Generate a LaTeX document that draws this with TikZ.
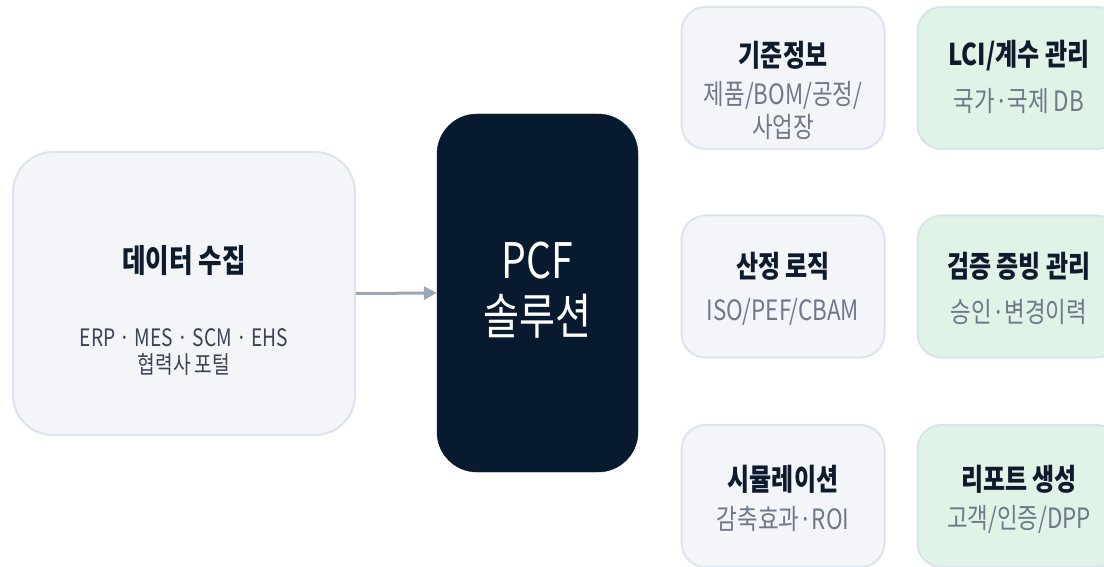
\documentclass[tikz,border=0pt]{standalone}
\usepackage{fontspec}
\setmainfont{Noto Sans CJK KR}[FakeStretch=0.8]
\usetikzlibrary{arrows.meta}
\definecolor{lightfill}{HTML}{F3F5F9}
\definecolor{lightborder}{HTML}{DCE4EE}
\definecolor{greenfill}{HTML}{DFF3E6}
\definecolor{greenborder}{HTML}{D8E4EC}
\definecolor{navy}{HTML}{081A2F}
\definecolor{titlecol}{HTML}{0F1B2D}
\definecolor{subcol}{HTML}{6D7889}
\definecolor{leftsubcol}{HTML}{3B4452}
\definecolor{arrowcol}{HTML}{9AA6B6}
\tikzset{
  card/.style={draw=lightborder, fill=lightfill, line width=2pt, rounded corners=24pt,
    minimum width=203pt, minimum height=142pt, inner sep=0pt},
  gcard/.style={card, draw=greenborder, fill=greenfill},
  ttl/.style={text=titlecol, font=\bfseries\fontsize{30}{32}\selectfont, inner sep=0pt},
  sub/.style={text=subcol, font=\fontsize{28}{30}\selectfont, inner sep=0pt},
  bigtxt/.style={text=white, font=\fontsize{49}{50}\selectfont, inner sep=0pt},
  leftsub/.style={text=leftsubcol, font=\fontsize{24}{26}\selectfont, inner sep=0pt},
  arrowline/.style={draw=arrowcol, line width=3pt, -{Triangle[length=13pt,width=13pt]}}
}
\begin{document}
\begin{tikzpicture}[x=1pt,y=-1pt]
\useasboundingbox (0,0) rectangle (1104,567);
% left
\node[card, rounded corners=40pt, minimum width=342pt, minimum height=283pt] (left) at (184,293.5) {};
\node[ttl, font=\bfseries\fontsize{32}{34}\selectfont] (lefttitle) at (184,261) {데이터 수집};
\node[leftsub] (leftsub1) at (184,337.5) {ERP · MES · SCM · EHS};
\node[leftsub] (leftsub2) at (184,364.5) {협력사 포털};
% center
\node[draw=navy, fill=navy, rounded corners=40pt, minimum width=201pt, minimum height=358pt, inner sep=0pt] (pcf) at (537.5,293) {};
\node[bigtxt] (pcf1) at (537.5,261) {PCF};
\node[bigtxt] (pcf2) at (537.5,316) {솔루션};
\draw[arrowline] (left.east) -- (pcf.west);
% column 1
\node[card] (c11) at (783,78) {};
\node[ttl] (c11t) at (783,55.5) {기준정보};
\node[sub] (c11s) at (783,95) {제품/BOM/공정/};
\node[sub] (c11u) at (783,127) {사업장};
\node[card] (c12) at (783,286.5) {};
\node[ttl] (c12t) at (783,266.5) {산정 로직};
\node[sub] (c12s) at (783,312) {ISO/PEF/CBAM};
\node[card] (c13) at (783,496) {};
\node[ttl] (c13t) at (783,479) {시뮬레이션};
\node[sub] (c13s) at (783,519) {감축효과·ROI};
% column 2
\node[gcard] (c21) at (1019,78) {};
\node[ttl] (c21t) at (1019,55.5) {LCI/계수 관리};
\node[sub] (c21s) at (1019,101) {국가·국제 DB};
\node[gcard] (c22) at (1019,286.5) {};
\node[ttl] (c22t) at (1019,266.5) {검증 증빙 관리};
\node[sub] (c22s) at (1019,312) {승인·변경이력};
\node[gcard] (c23) at (1019,496) {};
\node[ttl] (c23t) at (1019,479) {리포트 생성};
\node[sub] (c23s) at (1019,519) {고객/인증/DPP};
\end{tikzpicture}
\end{document}
